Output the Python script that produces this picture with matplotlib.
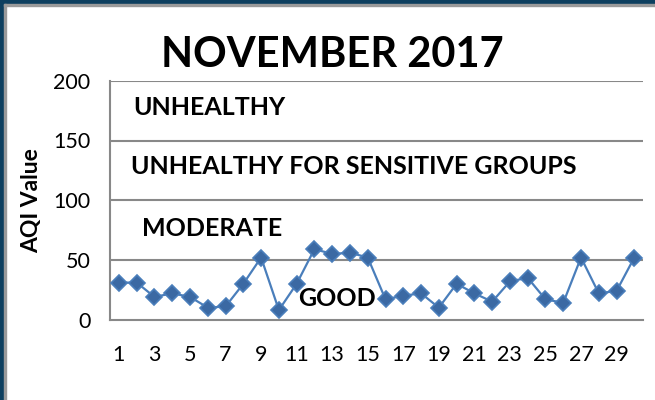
import matplotlib
matplotlib.use("Agg")
import matplotlib.pyplot as plt
from matplotlib.patches import Rectangle

# AQI values for November 2017
days = list(range(1, 31))
aqi = [31, 31, 19, 22, 19, 10, 11, 30, 52, 8,
       30, 59, 55, 56, 52, 17, 20, 22, 10, 30,
       22, 15, 32, 35, 17, 14, 52, 22, 24, 52]

yticks = [0, 50, 100, 150, 200]
xticks = list(range(1, 30, 2))

# category labels drawn inside the plot
zones = ["UNHEALTHY", "UNHEALTHY FOR SENSITIVE GROUPS", "MODERATE", "GOOD"]
zone_x = [1.79, 1.68, 2.3, 11.08]
zone_y = [178, 128, 76, 18]

plt.rcParams['font.family'] = ['Lato', 'DejaVu Sans']

fig = plt.figure(figsize=(6.55, 4.0), dpi=100)
ax = fig.add_axes([0.168, 0.201, 0.814, 0.597])

ax.plot(days, aqi, color='#4a7ebb', lw=1.6, marker='D', markersize=8.5,
        markerfacecolor='#3b69a3', markeredgecolor='#4a7ebb', markeredgewidth=1.2,
        zorder=3)

ax.set_xlim(0.5, 30.5)
ax.set_ylim(0, 200)
ax.set_yticks(yticks)
ax.set_xticks(xticks)
ax.tick_params(length=0, labelsize=15.5, pad=14)
ax.tick_params(axis='x', pad=18)
for y in yticks[1:]:
    ax.axhline(y, color='#888888', lw=1.5, zorder=1)
for s in ['top', 'right']:
    ax.spines[s].set_visible(False)
for s in ['left', 'bottom']:
    ax.spines[s].set_color('#888888')
    ax.spines[s].set_linewidth(1.5)

ax.set_ylabel('AQI Value', fontsize=16.5, fontweight='bold', labelpad=8)

for name, x, y in zip(zones, zone_x, zone_y):
    ax.text(x, y, name, fontsize=18, fontweight='bold', ha='left', va='center', zorder=4)

fig.text(0.508, 0.862, 'NOVEMBER 2017', fontsize=30, fontweight='bold',
         ha='center', va='center')

# dark frame along the top and left edges
fig.add_artist(Rectangle((0, 0.99), 1, 0.01, transform=fig.transFigure,
                         color='#0d3f5f', zorder=10))
fig.add_artist(Rectangle((0, 0), 0.0065, 1, transform=fig.transFigure,
                         color='#0d3f5f', zorder=10))
fig.add_artist(Rectangle((0.0065, 0), 0.003, 0.99, transform=fig.transFigure,
                         color='#9a9a9a', zorder=10))
fig.add_artist(Rectangle((0.0065, 0.985), 0.9935, 0.005, transform=fig.transFigure,
                         color='#9a9a9a', zorder=10))

fig.savefig('out.png', dpi=100)
